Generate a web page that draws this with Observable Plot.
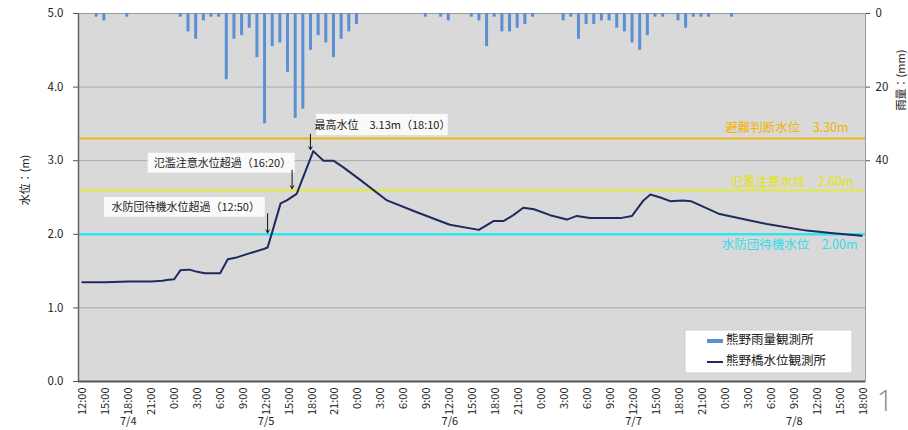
<!DOCTYPE html>
<html>
<head>
<meta charset="utf-8">
<script src="https://cdn.jsdelivr.net/npm/d3@7"></script>
<script src="https://cdn.jsdelivr.net/npm/@observablehq/plot@0.6"></script>
<style>
  body { margin: 0; background: #fff; }
  #chart { position: relative; width: 908px; height: 430px; overflow: hidden; }
</style>
</head>
<body>
<div id="chart"></div>
<script>
// hours counted from 7/4 12:00
const rainHours = [2,3,6,13,14,15,16,17,18,19,20,21,22,23,24,25,26,27,28,29,30,31,32,33,34,35,36,45,47,48,51,52,53,54,55,56,57,58,59,63,64,65,66,67,68,69,70,71,72,73,74,75,76,78,79,80,81,82,85];
const rainMm    = [1,2,1,1,5,7,2,1,1,18,7,6,4,12,30,9,8,16,28.5,26,10,6,8,12,7,5,3,1,1,2,1,2,9,1,5,5,4,3,1,2,1,7,3,3,2,2,4,5,8,10,6,1,1,2,4,1,1,1,1];

const levelHours = [0,3,6,9,10.5,11,12,12.8,14,15,16,18,19,20,21.5,23.7,24.2,24.8,25.9,26.7,28,30.17,31.5,32.8,34.1,36.3,39.8,43.7,48,51.8,53.7,55,56.3,57.6,59,61.1,63.3,64.6,66.3,70.3,71.8,73.3,74.2,75.5,76.8,78.4,79.5,83.1,89.4,94.6,98.1,100.7,101.8];
const levelM     = [1.35,1.35,1.36,1.36,1.37,1.38,1.39,1.51,1.52,1.49,1.47,1.47,1.66,1.68,1.73,1.80,1.82,2.03,2.42,2.46,2.55,3.13,3.00,3.00,2.91,2.74,2.46,2.30,2.13,2.06,2.18,2.18,2.26,2.36,2.34,2.26,2.20,2.25,2.22,2.22,2.25,2.46,2.54,2.50,2.45,2.46,2.45,2.28,2.14,2.05,2.015,1.99,1.98];

const xTicks = d3.range(0, 103, 3);
const dayLabels = ["7/4","7/5","7/6","7/7","7/8"];
const dayCenters = [6,24,48,72,93];
const levelTicks = [0,1,2,3,4,5];
const rainTickLabels = [0,20,40];

const thresholds = [
  {level: 3.30, label: "避難判断水位\u30003.30m", color: "#f3b51c", text: "#f2b400", dy: -11, dx: -17, w: 2},
  {level: 2.60, label: "氾濫注意水位\u30002.60m", color: "#e2eb3a", text: "#e4e400", dy: -8,  dx: -12, w: 2},
  {level: 2.00, label: "水防団待機水位\u30002.00m", color: "#2fe6f0", text: "#35dcec", dy: 11, dx: -8, w: 2.5}
];

const notes = [
  {text: "最高水位\u30003.13m（18:10）", x: 39.2, y: 3.48, bx1: 30.6, bx2: 47.8, by1: 3.34, by2: 3.63, ax: 29.8, ay1: 3.36, ay2: 3.15},
  {text: "氾濫注意水位超過（16:20）", x: 18.3, y: 2.96, bx1: 8.6, bx2: 27.8, by1: 2.83, by2: 3.10, ax: 27.4, ay1: 2.87, ay2: 2.62},
  {text: "水防団待機水位超過（12:50）", x: 13.5, y: 2.36, bx1: 2.9, bx2: 23.9, by1: 2.23, by2: 2.50, ax: 24.2, ay1: 2.28, ay2: 2.02}
];

const legendItems = ["熊野雨量観測所", "熊野橋水位観測所"];

const rain = rainHours.map((h, i) => ({h, mm: rainMm[i]}));
const level = levelHours.map((h, i) => ({h, v: levelM[i]}));

const font = "'Noto Sans CJK JP', 'Noto Sans', sans-serif";

const plot = Plot.plot({
  width: 908,
  height: 430,
  marginLeft: 78,
  marginRight: 43,
  marginTop: 13,
  marginBottom: 49,
  style: {fontFamily: font, fontSize: "11px", color: "#222", background: "transparent"},
  x: {domain: [-0.5, 102.3]},
  y: {domain: [0, 5]},
  marks: [
    Plot.frame({fill: "#d9d9d9", stroke: "#9a9a9a"}),
    Plot.ruleY([1, 3, 4], {stroke: "#a9a9a9", strokeWidth: 1}),
    Plot.ruleX(rain, {x: "h", y1: 5, y2: d => 5 - d.mm / 20, stroke: "#5b8fd4", strokeWidth: 3, dx: -1.5}),
    ...thresholds.map(t => Plot.ruleY([t.level], {stroke: t.color, strokeWidth: t.w})),
    ...thresholds.map(t => Plot.text([t], {y: "level", text: "label", frameAnchor: "right", textAnchor: "end", dx: t.dx, dy: t.dy, fill: t.text, fontSize: 12.5})),
    Plot.line(level, {x: "h", y: "v", stroke: "#1f2a5e", strokeWidth: 2}),
    Plot.rect(notes, {x1: "bx1", x2: "bx2", y1: "by1", y2: "by2", fill: "#fafafa"}),
    Plot.text(notes, {x: "x", y: "y", text: "text", fill: "#222", fontSize: 11}),
    Plot.arrow(notes, {x1: "ax", x2: "ax", y1: "ay1", y2: "ay2", stroke: "#111", strokeWidth: 1, headLength: 5}),
    Plot.axisY(levelTicks, {anchor: "left", tickFormat: d3.format(".1f"), tickSize: 5, tickPadding: 10, fontSize: 11.5, label: null, stroke: "#555"}),
    Plot.axisY(rainTickLabels.map(r => 5 - r / 20), {anchor: "right", tickFormat: d => String(Math.round((5 - d) * 20)), tickSize: 4, tickPadding: 6, fontSize: 11.5, label: null, stroke: "#555"}),
    Plot.axisX(xTicks, {tickFormat: h => ((12 + h) % 24) + ":00", tickRotate: -90, tickSize: 0, tickPadding: 6, fontSize: 11, label: null}),
    Plot.axisX(dayCenters, {tickFormat: d => dayLabels[dayCenters.indexOf(d)], tickSize: 0, tickPadding: 36, fontSize: 11, label: null}),
    Plot.ruleX([-0.5], {stroke: "#666", strokeWidth: 1.5}),
    Plot.ruleY([0], {stroke: "#555", strokeWidth: 2})
  ]
});

const svg = d3.select(plot);
// axis titles
svg.append("text").attr("transform", "translate(26,180) rotate(-90)")
  .attr("text-anchor", "middle").attr("dominant-baseline", "middle")
  .style("font-size", "11px").style("font-family", font).attr("fill", "#222").text("水位：(m)");
svg.append("text").attr("transform", "translate(902,80) rotate(-90)")
  .attr("text-anchor", "middle").attr("dominant-baseline", "middle")
  .style("font-size", "11px").style("font-family", font).attr("fill", "#222").text("雨量：(mm)");
// legend
const lg = svg.append("g").attr("transform", "translate(685,330)");
lg.append("rect").attr("width", 167).attr("height", 43).attr("fill", "#fff").attr("stroke", "#cfcfcf");
lg.append("line").attr("x1", 22).attr("x2", 38).attr("y1", 11).attr("y2", 11).attr("stroke", "#5b8fd4").attr("stroke-width", 4);
lg.append("line").attr("x1", 22).attr("x2", 38).attr("y1", 32).attr("y2", 32).attr("stroke", "#1f2a5e").attr("stroke-width", 2);
legendItems.forEach((t, i) => {
  lg.append("text").attr("x", 41).attr("y", 11 + i * 21).attr("dominant-baseline", "middle")
    .attr("text-anchor", "start")
    .style("font-size", "12.5px").style("font-family", font).attr("fill", "#222").text(t);
});
// page number
svg.append("text").attr("x", 885).attr("y", 411).attr("text-anchor", "middle")
  .style("font-size", "30px").style("font-family", "'Open Sans', 'Noto Sans', sans-serif").style("font-weight", "300")
  .attr("fill", "#8a8a8a").text("1");

document.getElementById("chart").appendChild(plot);
</script>
</body>
</html>
